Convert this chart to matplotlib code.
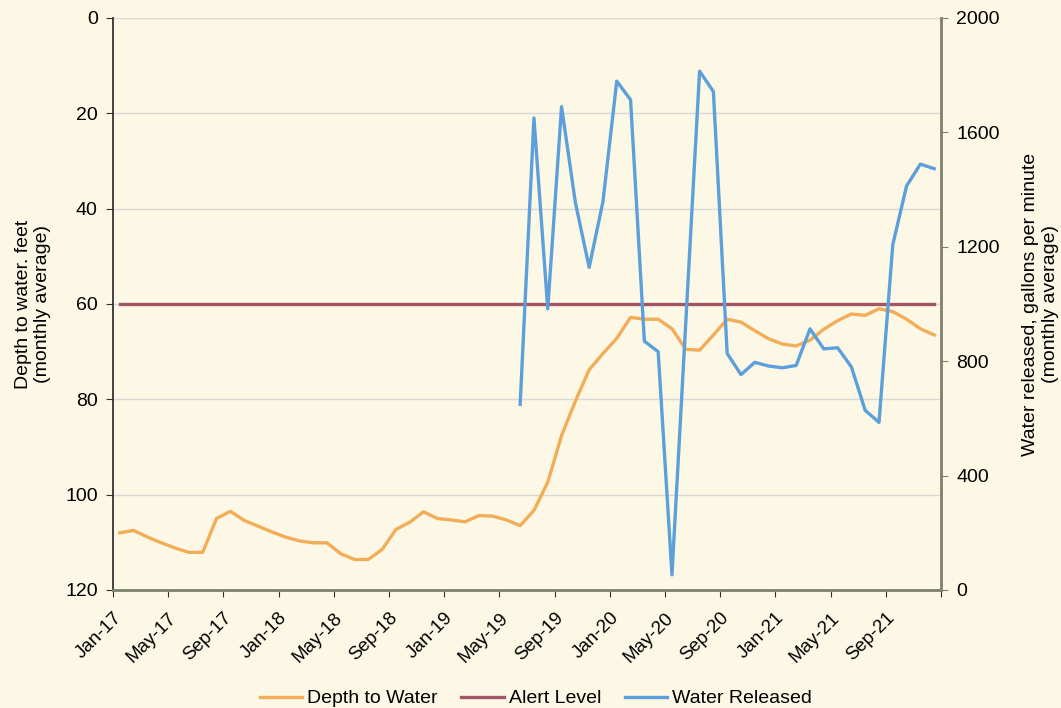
import matplotlib
matplotlib.use("Agg")
import matplotlib.pyplot as plt
import numpy as np

# Monthly labels Jan-17 .. Dec-21
month_names = ["Jan", "Feb", "Mar", "Apr", "May", "Jun",
               "Jul", "Aug", "Sep", "Oct", "Nov", "Dec"]
months = [f"{m}-{y}" for y in range(17, 22) for m in month_names]

# Depth to water, feet (monthly average)
depth = [108.0, 107.5, 108.9, 110.1, 111.2, 112.1, 112.1, 105.0, 103.5, 105.4,
         106.6, 107.8, 108.9, 109.7, 110.1, 110.1, 112.4, 113.6, 113.6, 111.5,
         107.3, 105.8, 103.6, 105.0, 105.3, 105.7, 104.4, 104.5, 105.3, 106.5,
         103.3, 97.4, 87.6, 80.4, 73.8, 70.4, 67.2, 62.8, 63.2, 63.2,
         65.2, 69.5, 69.7, 66.5, 63.2, 63.8, 65.6, 67.3, 68.4, 68.8,
         67.6, 65.3, 63.5, 62.1, 62.4, 61.0, 61.6, 63.2, 65.2, 66.5]

alert_level = [60] * len(months)

# Water released, gpm (monthly average) - starts Jun-19
released = [np.nan] * 29 + [
    649, 1650, 983, 1690, 1355, 1128, 1358, 1779, 1714, 870,
    833, 53, 935, 1814, 1743, 827, 753, 796, 783, 777,
    785, 913, 843, 847, 780, 628, 586, 1208, 1413, 1489, 1473]

bg = "#FDF8E6"
c_depth = "#F2AD58"
c_alert = "#A25564"
c_rel = "#5C9FDB"

plt.rcParams["font.family"] = ["Liberation Sans", "DejaVu Sans"]

fig = plt.figure(figsize=(10.61, 7.08), dpi=100, facecolor=bg)
ax = fig.add_axes([0.1065, 0.1667, 0.7805, 0.8079], facecolor=bg)
ax2 = ax.twinx()

x = np.arange(len(months)) + 0.5

l1, = ax.plot(x, depth, color=c_depth, lw=2.4, label="Depth to Water", solid_joinstyle="round")
l2, = ax.plot(x, alert_level, color=c_alert, lw=2.4, label="Alert Level")
l3, = ax2.plot(x, released, color=c_rel, lw=2.4, label="Water Released", solid_joinstyle="round")

ax.set_ylim(120, 0)
ax.set_yticks(range(0, 121, 20))
ax2.set_ylim(0, 2000)
ax2.set_yticks(range(0, 2001, 400))
ax.set_xlim(0, 60)
ax.set_xticks(range(0, 61, 4))
ax.set_xticklabels([months[i] if i < 60 else "" for i in range(0, 61, 4)],
                   rotation=45, ha="right", rotation_mode="anchor", fontsize=13.5)

ax.grid(axis="y", color="#D9D9D6", lw=1)
ax.set_axisbelow(True)

ax.tick_params(axis="y", labelsize=14, length=5, color="#333333", pad=6)
ax.tick_params(axis="x", length=5, color="#333333", pad=9)
ax2.tick_params(axis="y", labelsize=14, length=5, color="#7F7F70", pad=6)

for s in ["top"]:
    ax.spines[s].set_visible(False)
    ax2.spines[s].set_visible(False)
ax2.spines["left"].set_visible(False)
ax2.spines["bottom"].set_visible(False)
ax.spines["right"].set_visible(False)
ax.spines["left"].set_color("#333333")
ax.spines["left"].set_linewidth(1.3)
ax.spines["bottom"].set_color("#7F7F70")
ax.spines["bottom"].set_linewidth(2)
ax2.spines["right"].set_color("#7F7F70")
ax2.spines["right"].set_linewidth(2)

ax.set_ylabel("Depth to water. feet\n(monthly average)", fontsize=14, labelpad=10)
ax2.set_ylabel("Water released, gallons per minute\n(monthly average)", fontsize=14,
               rotation=90, labelpad=16)

fig.legend(handles=[l1, l2, l3], loc="lower center", bbox_to_anchor=(0.505, -0.024),
           ncol=3, frameon=False, fontsize=14, handlelength=2.2, columnspacing=1.2,
           handletextpad=0.25)

fig.savefig("out.png", dpi=100, facecolor=bg)
